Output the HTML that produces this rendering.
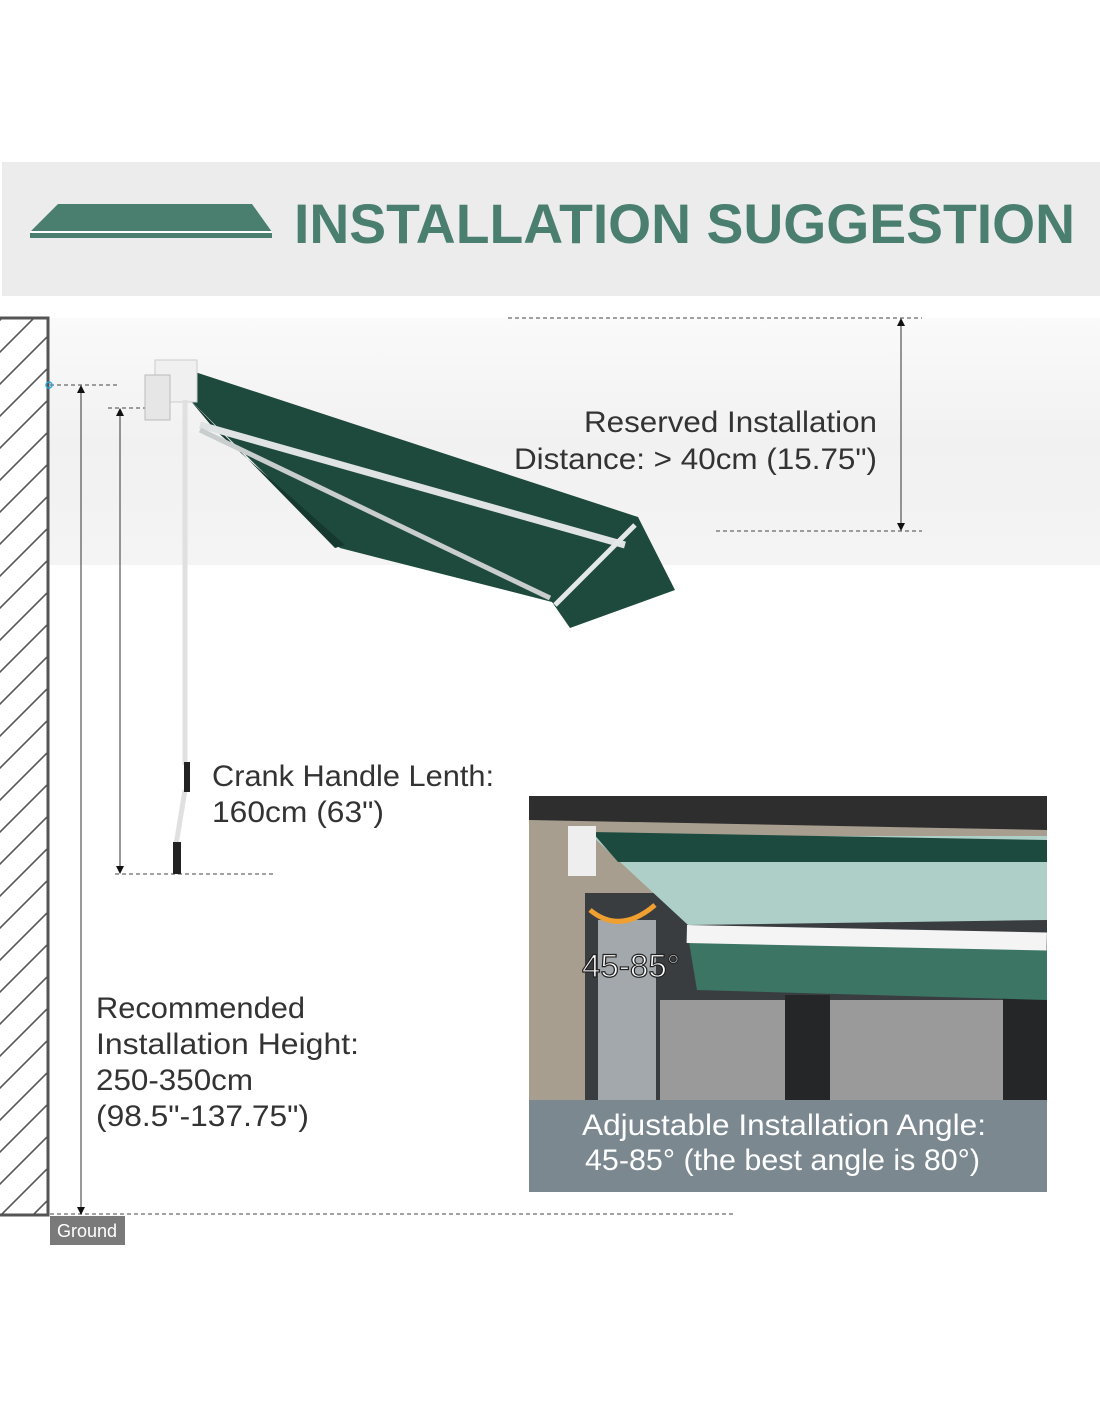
<!DOCTYPE html>
<html><head><meta charset="utf-8"><style>
body{margin:0;background:#fff}
svg{display:block}
</style></head><body>
<svg width="1100" height="1422" viewBox="0 0 1100 1422" xmlns="http://www.w3.org/2000/svg" font-family="Liberation Sans, sans-serif">
<defs>
<linearGradient id="band" x1="0" y1="0" x2="0" y2="1">
<stop offset="0" stop-color="#fafafa"/><stop offset="0.5" stop-color="#f1f1f1"/><stop offset="1" stop-color="#f4f4f4"/></linearGradient>
<pattern id="hatch" width="32" height="32" patternUnits="userSpaceOnUse">
<path d="M0,32 L32,0 M-8,8 L8,-8 M24,40 L40,24" stroke="#555" stroke-width="1.6"/></pattern>
</defs>
<rect x="2" y="162" width="1098" height="134" fill="#ececec"/>
<polygon points="58,204 252,204 272,232 30,232" fill="#4a7f70"/>
<rect x="30" y="231" width="242" height="2" fill="#fff"/>
<rect x="30" y="233" width="242" height="5" fill="#4a7f70"/>
<text x="294" y="243" font-size="56" font-weight="bold" fill="#4a7f70" textLength="781" lengthAdjust="spacingAndGlyphs">INSTALLATION SUGGESTION</text>
<rect x="48" y="318" width="1052" height="247" fill="url(#band)"/>
<rect x="0" y="318" width="48" height="897" fill="url(#hatch)"/>
<path d="M0,318 H48 V1215 H0" fill="none" stroke="#555" stroke-width="3"/>
<g stroke="#444" stroke-width="1" stroke-dasharray="4,3" fill="none">
<line x1="508" y1="318" x2="922" y2="318"/><line x1="716" y1="531" x2="922" y2="531"/>
<line x1="50" y1="385" x2="120" y2="385"/><line x1="108" y1="408" x2="160" y2="408"/>
<line x1="115" y1="874" x2="275" y2="874"/><line x1="50" y1="1214" x2="733" y2="1214"/>
</g>
<g stroke="#333" stroke-width="1"><line x1="901" y1="322" x2="901" y2="527"/><line x1="81" y1="390" x2="81" y2="1210"/><line x1="120" y1="412" x2="120" y2="870"/></g>
<g fill="#111"><polygon points="901,318 897,326 905,326"/><polygon points="901,531 897,523 905,523"/>
<polygon points="81,385 77,393 85,393"/><polygon points="81,1215 77,1207 85,1207"/>
<polygon points="120,408 116,416 124,416"/><polygon points="120,874 116,866 124,866"/></g>
<circle cx="49" cy="385" r="3" fill="none" stroke="#2aa7d8" stroke-width="1.5"/>
<!-- awning -->
<polygon points="195,372 638,517 675,590 570,628 552,602 340,548 190,400" fill="#1e4a3d"/>
<polygon points="190,400 215,430 345,545 335,548" fill="#16392f"/>
<line x1="200" y1="425" x2="625" y2="545" stroke="#dfe3e3" stroke-width="7"/>
<line x1="200" y1="430" x2="550" y2="598" stroke="#c9cdcd" stroke-width="5"/>
<line x1="635" y1="525" x2="555" y2="605" stroke="#e5e8e8" stroke-width="5"/>
<rect x="155" y="360" width="42" height="42" fill="#f0f0f0" stroke="#ccc"/>
<rect x="145" y="375" width="25" height="45" fill="#e6e6e6" stroke="#bbb"/>
<line x1="185" y1="400" x2="185" y2="765" stroke="#e0e0e0" stroke-width="5"/>
<path d="M185,790 Q180,820 176,845" stroke="#e0e0e0" stroke-width="5" fill="none"/>
<rect x="184" y="762" width="6" height="30" fill="#222"/><rect x="173" y="842" width="8" height="32" fill="#222"/>
<g font-size="30" fill="#333" lengthAdjust="spacingAndGlyphs">
<text x="584" y="432" textLength="293" lengthAdjust="spacingAndGlyphs">Reserved Installation</text>
<text x="514" y="469" textLength="363" lengthAdjust="spacingAndGlyphs">Distance: &gt; 40cm (15.75")</text>
<text x="212" y="786" textLength="282" lengthAdjust="spacingAndGlyphs">Crank Handle Lenth:</text>
<text x="212" y="822" textLength="172" lengthAdjust="spacingAndGlyphs">160cm (63")</text>
<text x="96" y="1018" textLength="209" lengthAdjust="spacingAndGlyphs">Recommended</text>
<text x="96" y="1054" textLength="263" lengthAdjust="spacingAndGlyphs">Installation Height:</text>
<text x="96" y="1090" textLength="157" lengthAdjust="spacingAndGlyphs">250-350cm</text>
<text x="96" y="1126" textLength="213" lengthAdjust="spacingAndGlyphs">(98.5"-137.75")</text>
</g>
<rect x="50" y="1216" width="75" height="29" fill="#7a7a7a"/>
<text x="87" y="1237" font-size="18" fill="#fff" text-anchor="middle">Ground</text>
<!-- photo -->
<rect x="529" y="796" width="518" height="396" fill="#a89e90"/>
<polygon points="529,796 1047,796 1047,830 529,820" fill="#2e2e2e"/>
<rect x="585" y="893" width="462" height="207" fill="#3a3d40"/>
<rect x="660" y="1000" width="387" height="100" fill="#9a9a9a"/>
<rect x="785" y="995" width="45" height="105" fill="#252628"/><rect x="1003" y="995" width="44" height="105" fill="#252628"/>
<rect x="598" y="920" width="58" height="180" fill="#cfd6d8" opacity="0.7"/>
<polygon points="592,836 1047,836 1047,920 688,925" fill="#aecfc8"/>
<polygon points="592,832 1047,840 1047,862 618,862" fill="#1d4a3e"/>
<polygon points="687,930 1047,948 1047,1000 697,990" fill="#3d7565"/>
<rect x="687" y="925" width="360" height="18" fill="#f4f4f4" transform="rotate(1.2 687 925)"/>
<rect x="568" y="826" width="28" height="50" fill="#eee"/>
<path d="M590,910 Q620,935 655,905" stroke="#f0a030" stroke-width="5" fill="none"/>
<text x="582" y="977" font-size="32" fill="#fff" stroke="#222" stroke-width="1.2" textLength="98" lengthAdjust="spacingAndGlyphs">45-85°</text>
<rect x="529" y="1100" width="518" height="92" fill="#7b8890"/>
<text x="582" y="1135" font-size="30" fill="#fff" textLength="404" lengthAdjust="spacingAndGlyphs">Adjustable Installation Angle:</text>
<text x="585" y="1170" font-size="30" fill="#fff" textLength="395" lengthAdjust="spacingAndGlyphs">45-85° (the best angle is 80°)</text>
</svg>
</body></html>
